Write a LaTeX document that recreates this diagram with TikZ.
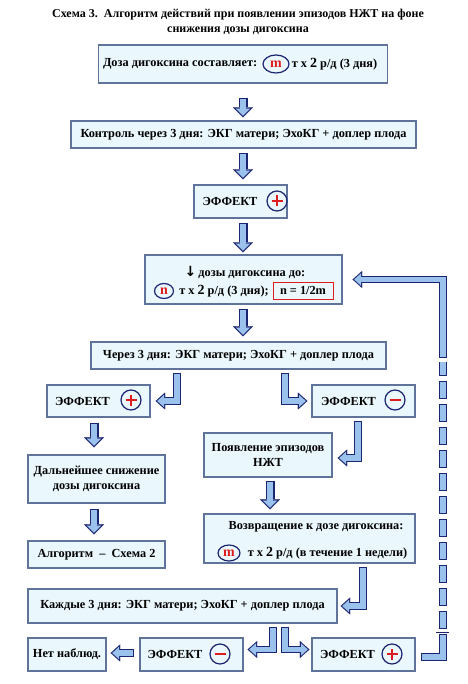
\documentclass[tikz,border=0pt]{standalone}
\usepackage{fontspec}
\setmainfont{Liberation Serif}
\newfontfamily\symfont{DejaVu Sans}
\usepackage{xcolor}
\usetikzlibrary{arrows.meta,positioning,shapes.geometric,calc}

\definecolor{boxfill}{RGB}{234,247,252}
\definecolor{boxline}{RGB}{95,115,155}
\definecolor{navy}{RGB}{28,38,112}
\definecolor{arrowfill}{RGB}{155,194,236}
\definecolor{signred}{RGB}{222,30,30}

\tikzset{
  box/.style={draw=boxline, line width=1.2pt, fill=boxfill, inner sep=0pt, align=center,
    font=\bfseries\fontsize{12.3}{15}\selectfont},
  txt/.style={inner sep=0pt, font=\bfseries\fontsize{12.3}{14}\selectfont},
  sign/.style={circle, draw=navy, line width=1.2pt, minimum size=20pt, inner sep=0pt},
  signline/.style={draw=signred, line width=2.2pt},
  oval/.style={ellipse, draw=navy, line width=1.2pt, minimum width=26pt, minimum height=18pt,
    inner sep=0pt, text=signred, font=\bfseries\fontsize{14}{14}\selectfont},
  flowout/.style={draw=navy, line width=7.5pt, line join=miter,
    -{Triangle[length=9.5pt 0 0, width=17pt 0 0, line width=0.1pt]}},
  flowin/.style={draw=arrowfill, line width=5.3pt, line join=miter, shorten <=1.1pt, shorten >=1.65pt,
    -{Triangle[length=6.75pt 0 0, width=12.1pt 0 0, line width=0.1pt]}},
  bigout/.style={draw=navy, line width=9pt,
    -{Triangle[length=10pt 0 0, width=20pt 0 0, line width=0.1pt]}},
  bigin/.style={draw=arrowfill, line width=6.6pt, shorten <=1.2pt, shorten >=1.7pt,
    -{Triangle[length=7.1pt 0 0, width=14.2pt 0 0, line width=0.1pt]}},
}
\newcommand{\flowL}[1]{\draw[flowout] #1; \draw[flowin] #1;}
\newcommand{\flowD}[1]{\draw[bigout] #1; \draw[bigin] #1;}
\newcommand{\flowpiece}[1]{\draw[flowout,-] #1; \draw[flowin,-,shorten >=1.1pt] #1;}
\newcommand{\twox}{{\fontsize{14}{14}\selectfont 2}}
\newcommand{\minussign}[1]{\draw[signline] ([xshift=-5.5pt]#1.center) -- ([xshift=5.5pt]#1.center);}
\newcommand{\plussign}[1]{\minussign{#1}\draw[signline] ([yshift=-5.5pt]#1.center) -- ([yshift=5.5pt]#1.center);}

\begin{document}
\begin{tikzpicture}[x=1pt, y=-1pt]
\useasboundingbox (0,0) rectangle (467,684);

% title
\node[align=center, font=\bfseries\fontsize{12}{15}\selectfont] (title) at (238,22)
  {Схема 3.\ \ Алгоритм действий при появлении эпизодов НЖТ на фоне\\снижения дозы дигоксина};

% main column
\node[box, minimum width=289pt, minimum height=38pt] (dose1) at (243,64) {};
\node[oval] (m1) at (276,64) {m};
\node[txt, left=5pt of m1] (dose1a) {Доза дигоксина составляет:};
\node[txt, right=2pt of m1] (dose1b) {т x \twox{} р/д (3 дня)};

\node[box, minimum width=345pt, minimum height=27pt] (ctrl1) at (243.5,134.5)
  {Контроль через 3 дня: ЭКГ матери; ЭхоКГ + доплер плода};

\node[box, minimum width=93pt, minimum height=33pt] (eff1) at (240.5,201.5) {};
\node[txt] (eff1t) at (230,201.5) {ЭФФЕКТ};
\node[sign] (eff1s) at (277,201) {};
\plussign{eff1s}

\node[box, minimum width=197pt, minimum height=49pt] (dose2) at (243.5,279.5) {};
\node[txt] (dose2a) at (245,272) {{\symfont\fontsize{14}{14}\selectfont ↓}\,дозы дигоксина до:};
\node[oval, minimum width=19pt, minimum height=15pt] (n1) at (164,291) {n};
\node[txt, right=5pt of n1] (dose2b) {т x \twox{} р/д (3 дня);};
\node[draw=signred, line width=1pt, minimum width=60pt, minimum height=17pt, inner sep=0pt,
  font=\bfseries\fontsize{12.3}{14}\selectfont] (nrule) at (303,290.5) {n = 1/2m};

\node[box, minimum width=295pt, minimum height=27pt] (ctrl2) at (238.5,355.5)
  {Через 3 дня: ЭКГ матери; ЭхоКГ + доплер плода};

% left branch
\node[box, minimum width=103pt, minimum height=32pt] (effL) at (98.5,401) {};
\node[txt] (effLt) at (82.5,401) {ЭФФЕКТ};
\node[sign] (effLs) at (131,400) {};
\plussign{effLs}

\node[box, minimum width=137pt, minimum height=48pt] (further) at (96.5,479)
  {Дальнейшее снижение\\дозы дигоксина};
\node[box, minimum width=137pt, minimum height=27pt] (algo) at (96.5,554.5)
  {Алгоритм \ – \ Схема 2};

% right branch
\node[box, minimum width=103pt, minimum height=32pt] (effR) at (363.5,401) {};
\node[txt] (effRt) at (348.5,401) {ЭФФЕКТ};
\node[sign] (effRs) at (395,400) {};
\minussign{effRs}

\node[box, minimum width=128pt, minimum height=44pt] (nzht) at (268,455)
  {Появление эпизодов\\НЖТ};

\node[box, minimum width=211pt, minimum height=49pt] (ret) at (309.5,538.5) {};
\node[txt] (reta) at (316,527) {Возвращение к дозе дигоксина:};
\node[oval, minimum width=22pt, minimum height=16pt] (m2) at (229,553) {m};
\node[txt, right=7pt of m2] (retb) {т x \twox{} р/д (в течение 1 недели)};

% bottom row
\node[box, minimum width=309pt, minimum height=34pt] (each) at (182.5,606)
  {Каждые 3 дня: ЭКГ матери; ЭхоКГ + доплер плода};
\node[box, minimum width=78pt, minimum height=33pt] (none) at (67,654.5) {Нет наблюд.};
\node[box, minimum width=103pt, minimum height=33pt] (effM) at (191.5,654.5) {};
\node[txt] (effMt) at (175,654.5) {ЭФФЕКТ};
\node[sign] (effMs) at (220,654) {};
\minussign{effMs}
\node[box, minimum width=103pt, minimum height=33pt] (effP) at (363.5,654.5) {};
\node[txt] (effPt) at (347.5,654.5) {ЭФФЕКТ};
\node[sign] (effPs) at (392,654) {};
\plussign{effPs}

% straight arrows
\flowD{([yshift=-14pt]dose1.south) -- ([yshift=3pt]dose1.south |- ctrl1.north)}
\flowD{([yshift=-4pt]dose1.south |- ctrl1.south) -- ([yshift=5pt]dose1.south |- eff1.north)}
\flowD{([yshift=-4pt]dose1.south |- eff1.south) -- ([yshift=2pt]dose1.south |- dose2.north)}
\flowD{([yshift=-4pt]dose1.south |- dose2.south) -- ([yshift=5pt]dose1.south |- ctrl2.north)}
\flowD{([yshift=-5pt,xshift=-4.5pt]effL.south) -- ([yshift=7pt,xshift=-2.5pt]further.north)}
\flowD{([yshift=-5pt,xshift=-2.5pt]further.south) -- ([yshift=6pt,xshift=-2.5pt]algo.north)}
\flowD{([yshift=-3pt,xshift=2pt]nzht.south) -- ([yshift=4pt,xshift=-39.5pt]ret.north)}

% bent arrows
\flowL{([xshift=-61.5pt,yshift=-3pt]ctrl2.south) |- ([xshift=5pt]effL.east)}
\flowL{([xshift=46.5pt,yshift=-3pt]ctrl2.south) |- ([xshift=-4pt]effR.west)}
\flowL{([xshift=-5.5pt,yshift=-3pt]effR.south) |- ([xshift=5pt,yshift=-3pt]nzht.east)}
\flowL{([xshift=53.5pt,yshift=-3pt]ret.south) |- ([xshift=3pt]each.east)}
\flowL{([xshift=90.5pt,yshift=-3pt]each.south) |- ([xshift=4pt,yshift=5pt]effM.east)}
\flowL{([xshift=102.5pt,yshift=-3pt]each.south) |- ([xshift=-2pt,yshift=5pt]effP.west)}
\flowL{([xshift=-5pt,yshift=1.5pt]effM.west) -- ([xshift=4pt,yshift=1.5pt]none.east)}

% feedback loop
\coordinate (fbbot) at (443,634);
\coordinate (fbd1) at (443,629);
\coordinate (fbd2) at (443,362);
\coordinate (fbmid) at (443,358);
\flowpiece{([xshift=5pt,yshift=-2.5pt]effP.east) -| (fbbot)}
\draw[navy, line width=1pt] (436,632) -- (449,632);
\draw[flowout,-,dash pattern=on 18pt off 5pt] (fbd1) -- (fbd2);
\draw[flowin,-,shorten <=0pt,shorten >=0pt,dash pattern=on 15.8pt off 7.2pt,dash phase=21.9pt] (fbd1) -- (fbd2);
\flowL{(fbmid) |- ([xshift=10pt]dose2.east)}
\end{tikzpicture}
\end{document}
